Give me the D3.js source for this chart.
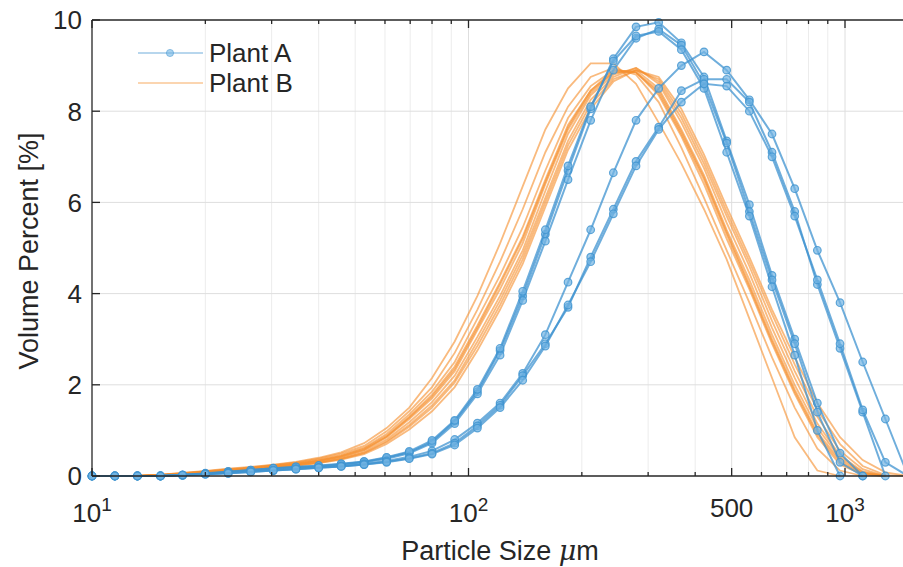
<!DOCTYPE html>
<html>
<head>
<meta charset="utf-8">
<script src="https://cdn.jsdelivr.net/npm/d3@7"></script>
<style>
  body { margin: 0; background: #fff; }
  text { font-family: "Liberation Sans", Arial, sans-serif; fill: #262626; }
</style>
</head>
<body>
<div id="chart"></div>
<script>
// particle size bins (um)
const sizes = [10, 11.5, 13.2, 15.2, 17.4, 20, 23, 26.4, 30.3, 34.8, 40, 45.9, 52.8, 60.6, 69.6, 80, 91.9, 105.6,
    121.3, 139.3, 160, 183.8, 211.1, 242.5, 278.6, 320, 367.6, 422.2, 485, 557.2, 640, 735.2, 844.5, 970.1,
    1114.3, 1280, 1470.3];

// Plant A runs (volume %, one value per bin)
const plantA1 = [0, 0, 0, 0, 0.02, 0.06, 0.1, 0.13, 0.17, 0.2, 0.22, 0.26, 0.31, 0.4, 0.52, 0.75, 1.2, 1.85, 2.75,
    3.95, 5.3, 6.7, 8.05, 9.15, 9.85, 9.95, 9.5, 8.75, 7.35, 5.95, 4.4, 3.0, 1.6, 0.5, 0];
const plantA2 = [0, 0, 0, 0, 0.02, 0.05, 0.09, 0.12, 0.16, 0.19, 0.21, 0.25, 0.3, 0.38, 0.5, 0.72, 1.15, 1.8, 2.65,
    3.85, 5.15, 6.5, 7.8, 8.9, 9.6, 9.8, 9.45, 8.6, 7.3, 5.8, 4.3, 2.9, 1.4, 0.3, 0];
const plantA3 = [0, 0, 0, 0, 0.02, 0.05, 0.09, 0.13, 0.17, 0.2, 0.23, 0.27, 0.32, 0.41, 0.54, 0.78, 1.22, 1.9, 2.8,
    4.05, 5.4, 6.8, 8.1, 9.1, 9.65, 9.75, 9.35, 8.5, 7.1, 5.7, 4.15, 2.65, 1.0, 0];
const plantA4 = [0, 0, 0, 0, 0.02, 0.04, 0.07, 0.1, 0.13, 0.16, 0.19, 0.22, 0.27, 0.33, 0.42, 0.55, 0.8, 1.16, 1.6,
    2.25, 3.1, 4.25, 5.4, 6.65, 7.8, 8.5, 9.0, 9.3, 8.9, 8.25, 7.5, 6.3, 4.95, 3.8, 2.5, 1.25, 0];
const plantA5 = [0, 0, 0, 0, 0.02, 0.04, 0.06, 0.09, 0.12, 0.15, 0.18, 0.21, 0.25, 0.31, 0.39, 0.5, 0.72, 1.1, 1.55,
    2.2, 2.9, 3.7, 4.8, 5.85, 6.9, 7.65, 8.45, 8.7, 8.7, 8.2, 7.1, 5.8, 4.2, 2.8, 1.4, 0];
const plantA6 = [0, 0, 0, 0, 0.02, 0.04, 0.06, 0.09, 0.12, 0.15, 0.18, 0.21, 0.25, 0.3, 0.38, 0.48, 0.68, 1.05, 1.5,
    2.1, 2.85, 3.75, 4.7, 5.75, 6.8, 7.6, 8.2, 8.6, 8.55, 8.0, 7.0, 5.7, 4.3, 2.9, 1.45, 0.3, 0];

// Plant B runs
const plantB1 = [null, null, 0, 0.03, 0.07, 0.11, 0.16, 0.2, 0.25, 0.31, 0.4, 0.52, 0.72, 1.05, 1.5, 2.15, 2.95, 3.95,
    5.1, 6.35, 7.6, 8.5, 9.05, 9.05, 8.6, 7.75, 6.85, 5.85, 4.75, 3.45, 2.15, 0.85, 0.12, 0];
const plantB2 = [null, null, 0, 0.03, 0.06, 0.1, 0.15, 0.19, 0.24, 0.3, 0.38, 0.49, 0.66, 0.98, 1.42, 1.95, 2.7, 3.65,
    4.7, 5.85, 7.1, 8.1, 8.75, 8.95, 8.8, 8.2, 7.2, 6.1, 4.95, 3.8, 2.6, 1.5, 0.6, 0.12, 0];
const plantB3 = [null, null, 0, 0.02, 0.06, 0.1, 0.14, 0.18, 0.23, 0.28, 0.36, 0.46, 0.62, 0.92, 1.35, 1.85, 2.5, 3.45,
    4.4, 5.45, 6.7, 7.85, 8.55, 8.9, 8.85, 8.35, 7.45, 6.4, 5.2, 4.1, 2.9, 1.8, 0.85, 0.25, 0.03, 0];
const plantB4 = [null, null, 0, 0.02, 0.05, 0.09, 0.13, 0.17, 0.22, 0.27, 0.34, 0.44, 0.6, 0.88, 1.3, 1.78, 2.4, 3.3,
    4.25, 5.25, 6.5, 7.7, 8.45, 8.85, 8.85, 8.45, 7.55, 6.55, 5.35, 4.2, 3.0, 1.9, 0.95, 0.35, 0.06, 0];
const plantB5 = [null, null, 0, 0.02, 0.05, 0.09, 0.13, 0.17, 0.21, 0.26, 0.33, 0.42, 0.57, 0.85, 1.25, 1.7, 2.3, 3.2,
    4.1, 5.1, 6.4, 7.6, 8.4, 8.85, 8.9, 8.5, 7.6, 6.6, 5.4, 4.3, 3.1, 2.0, 1.05, 0.4, 0.08, 0];
const plantB6 = [null, null, 0, 0.02, 0.05, 0.08, 0.12, 0.16, 0.2, 0.25, 0.31, 0.4, 0.54, 0.8, 1.18, 1.62, 2.2, 3.05,
    3.95, 4.95, 6.25, 7.5, 8.35, 8.8, 8.95, 8.6, 7.75, 6.75, 5.55, 4.45, 3.25, 2.15, 1.15, 0.45, 0.1, 0];
const plantB7 = [null, null, 0, 0.02, 0.04, 0.08, 0.12, 0.15, 0.19, 0.24, 0.3, 0.38, 0.51, 0.76, 1.12, 1.55, 2.1, 2.95,
    3.85, 4.85, 6.1, 7.35, 8.25, 8.75, 8.95, 8.65, 7.85, 6.85, 5.7, 4.6, 3.4, 2.3, 1.3, 0.55, 0.15, 0];
const plantB8 = [null, null, 0, 0.01, 0.04, 0.07, 0.11, 0.15, 0.18, 0.23, 0.29, 0.37, 0.5, 0.74, 1.08, 1.5, 2.05, 2.85,
    3.75, 4.75, 6.0, 7.25, 8.15, 8.7, 8.9, 8.7, 7.95, 6.95, 5.8, 4.7, 3.55, 2.45, 1.45, 0.7, 0.22, 0.02, 0];
const plantB9 = [null, null, 0, 0.01, 0.04, 0.07, 0.1, 0.14, 0.18, 0.22, 0.28, 0.36, 0.48, 0.7, 1.02, 1.42, 1.95, 2.75,
    3.65, 4.65, 5.9, 7.15, 8.05, 8.65, 8.9, 8.75, 8.05, 7.05, 5.9, 4.8, 3.65, 2.6, 1.6, 0.85, 0.35, 0.08, 0];
const plantB10 = [null, null, 0, 0.02, 0.05, 0.09, 0.13, 0.17, 0.21, 0.26, 0.33, 0.43, 0.58, 0.86, 1.28, 1.74, 2.35, 3.25,
    4.2, 5.2, 6.45, 7.65, 8.45, 8.9, 8.85, 8.4, 7.5, 6.5, 5.3, 4.15, 2.95, 1.85, 0.9, 0.3, 0.05, 0];

const yTicks = [0, 2, 4, 6, 8, 10];
const xMajor = [10, 100, 500, 1000];
const xMinor = [20, 30, 40, 50, 60, 70, 80, 90, 200, 300, 400, 500, 600, 700, 800, 900];
const xLabels = [{ v: 10, base: '10', sup: '1' }, { v: 100, base: '10', sup: '2' }, { v: 500, base: '500', sup: '' },
    { v: 1000, base: '10', sup: '3' }];
const legendItems = ['Plant A', 'Plant B'];

const width = 903, height = 567;
const margin = { left: 92, top: 20, bottom: 476, right: 903 };
const blue = '#3f93d0', orange = '#f5902e';

const svg = d3.select('#chart').append('svg').attr('width', width).attr('height', height);
const x = d3.scaleLog().domain([10, 1000]).range([margin.left, 845]);
const y = d3.scaleLinear().domain([0, 10]).range([margin.bottom, margin.top]);

const grid = svg.append('g');
grid.selectAll('.minor').data(xMinor).enter().append('line')
    .attr('x1', d => x(d)).attr('x2', d => x(d)).attr('y1', margin.top).attr('y2', margin.bottom)
    .attr('stroke', d => d === 500 ? '#dedede' : '#ececec').attr('stroke-width', 1);
grid.selectAll('.major').data([100, 1000]).enter().append('line')
    .attr('x1', d => x(d)).attr('x2', d => x(d)).attr('y1', margin.top).attr('y2', margin.bottom)
    .attr('stroke', '#dedede');
grid.selectAll('.hy').data(yTicks.slice(1, -1)).enter().append('line')
    .attr('x1', margin.left).attr('x2', margin.right).attr('y1', d => y(d)).attr('y2', d => y(d))
    .attr('stroke', '#dedede');

const line = d3.line()
    .defined(d => d.v !== null)
    .x(d => x(d.s))
    .y(d => y(d.v));
const toPoints = arr => arr.map((v, i) => ({ s: sizes[i], v: v }));

const seriesB = [plantB1, plantB2, plantB3, plantB4, plantB5, plantB6, plantB7, plantB8, plantB9, plantB10];
const seriesA = [plantA1, plantA2, plantA3, plantA4, plantA5, plantA6];

const plot = svg.append('g');
plot.selectAll('.b').data(seriesB).enter().append('path')
    .attr('d', d => line(toPoints(d)))
    .attr('fill', 'none').attr('stroke', orange).attr('stroke-width', 1.8).attr('stroke-opacity', 0.62);

seriesA.forEach(run => {
    const pts = toPoints(run);
    plot.append('path').attr('d', line(pts))
        .attr('fill', 'none').attr('stroke', blue).attr('stroke-width', 2).attr('stroke-opacity', 0.75);
    plot.append('g').selectAll('circle').data(pts).enter().append('circle')
        .attr('cx', d => x(d.s)).attr('cy', d => y(d.v)).attr('r', 3.8)
        .attr('fill', '#72b4e2').attr('fill-opacity', 0.7)
        .attr('stroke', blue).attr('stroke-opacity', 0.8).attr('stroke-width', 1.2);
});

// axes box
const axes = svg.append('g').attr('stroke', '#262626').attr('stroke-width', 1.3);
axes.append('line').attr('x1', margin.left).attr('x2', margin.right).attr('y1', margin.bottom).attr('y2', margin.bottom);
axes.append('line').attr('x1', margin.left).attr('x2', margin.right).attr('y1', margin.top).attr('y2', margin.top);
axes.append('line').attr('x1', margin.left).attr('x2', margin.left).attr('y1', margin.top).attr('y2', margin.bottom);

axes.selectAll('.yt').data(yTicks).enter().append('line')
    .attr('x1', margin.left).attr('x2', margin.left + 8).attr('y1', d => y(d)).attr('y2', d => y(d));
xMajor.forEach(v => {
    axes.append('line').attr('x1', x(v)).attr('x2', x(v)).attr('y1', margin.bottom).attr('y2', margin.bottom - 8);
    axes.append('line').attr('x1', x(v)).attr('x2', x(v)).attr('y1', margin.top).attr('y2', margin.top + 8);
});
xMinor.filter(v => v !== 500).forEach(v => {
    axes.append('line').attr('x1', x(v)).attr('x2', x(v)).attr('y1', margin.bottom).attr('y2', margin.bottom - 4);
    axes.append('line').attr('x1', x(v)).attr('x2', x(v)).attr('y1', margin.top).attr('y2', margin.top + 4);
});

svg.append('g').selectAll('text').data(yTicks).enter().append('text')
    .attr('x', 82).attr('y', d => y(d)).attr('dy', '0.36em')
    .attr('text-anchor', 'end').style('font-size', '26px').text(d => d);

const xl = svg.append('g').selectAll('text').data(xLabels).enter().append('text')
    .attr('x', d => x(d.v)).attr('y', d => d.sup ? 522 : 517)
    .attr('text-anchor', 'middle').style('font-size', '26px');
xl.append('tspan').text(d => d.base);
xl.append('tspan').attr('dy', -11).style('font-size', '19px').text(d => d.sup);

const xt = svg.append('text').attr('x', 500).attr('y', 560).attr('text-anchor', 'middle').style('font-size', '27px');
xt.append('tspan').text('Particle Size ');
xt.append('tspan').style('font-style', 'italic').style('font-family', '"DejaVu Serif", serif').text('\u03bc');
xt.append('tspan').text('m');

svg.append('text').attr('transform', 'translate(38,251) rotate(-90)')
    .attr('text-anchor', 'middle').style('font-size', '27px').text('Volume Percent [%]');

// legend
const lg = svg.append('g');
legendItems.forEach((name, i) => {
    const ly = 53 + i * 30;
    lg.append('line').attr('x1', 138).attr('x2', 203).attr('y1', ly).attr('y2', ly)
        .attr('stroke', i === 0 ? blue : orange).attr('stroke-opacity', 0.5).attr('stroke-width', 1.3);
    if (i === 0) {
        lg.append('circle').attr('cx', 170).attr('cy', ly).attr('r', 3.6)
            .attr('fill', '#72b4e2').attr('fill-opacity', 0.6).attr('stroke', blue).attr('stroke-opacity', 0.5);
    }
    lg.append('text').attr('x', 209).attr('y', ly).attr('dy', '0.36em').style('font-size', '26px').text(name);
});
</script>
</body>
</html>
